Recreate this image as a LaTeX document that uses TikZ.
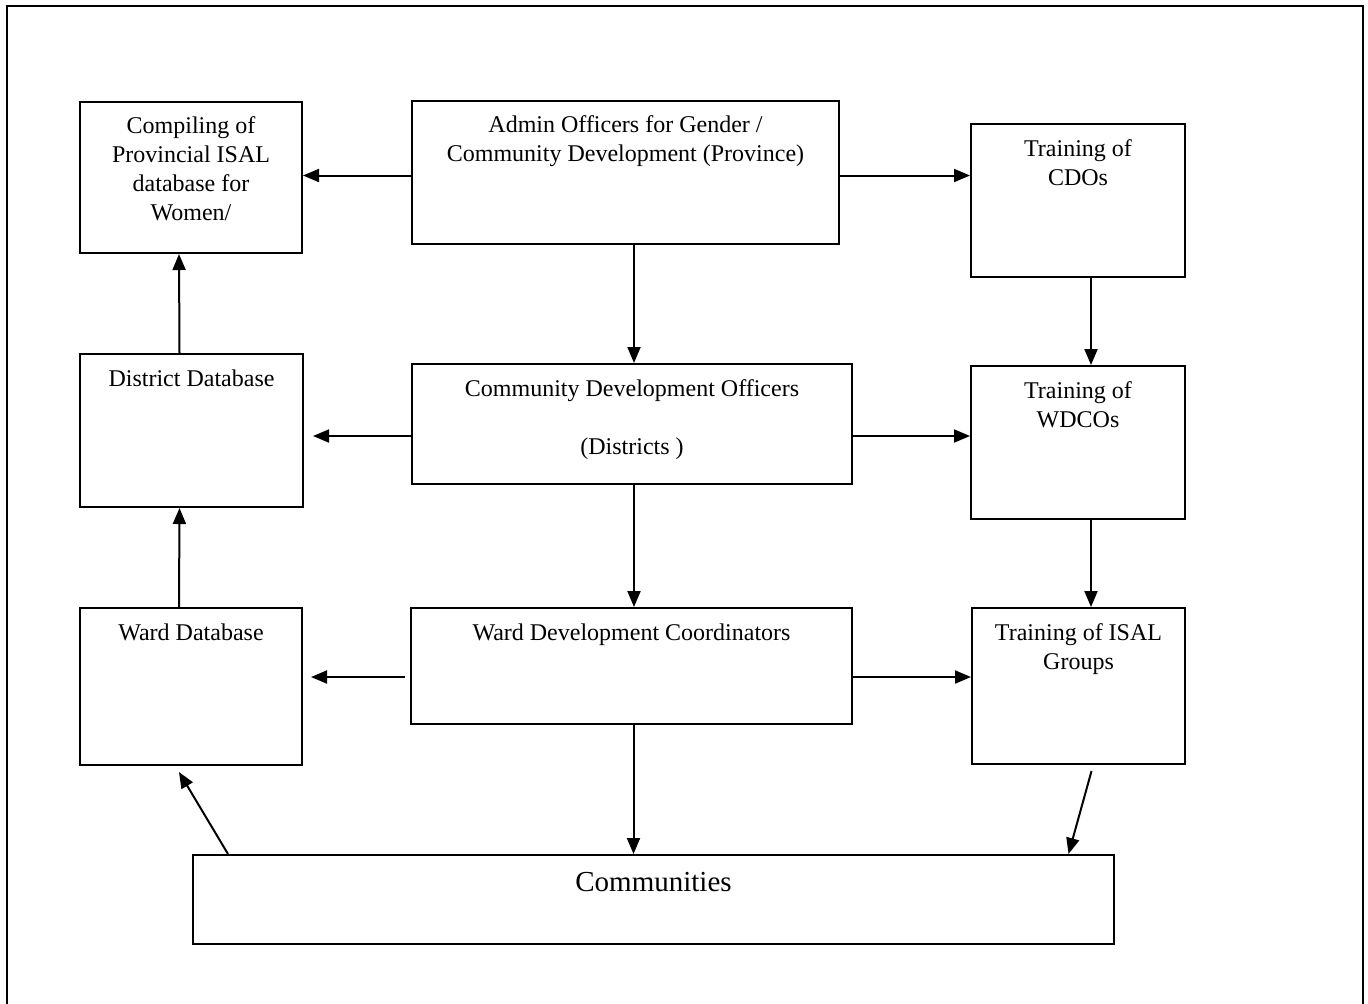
\documentclass[tikz,border=0pt]{standalone}
\usepackage{fontspec}
\setmainfont{Liberation Serif}
\usetikzlibrary{arrows.meta,positioning}

\tikzset{
	box/.style={draw, rectangle, line width=1pt, inner sep=0pt},
	txt/.style={align=center, inner sep=0pt, font=\fontsize{12}{14.5}\selectfont},
	arr/.style={-{Triangle[length=8pt,width=6.5pt]}, line width=1pt},
}

\begin{document}
\begin{tikzpicture}[x=0.5pt, y=-0.5pt]
	\useasboundingbox (0,0) rectangle (1368,1003);
	\draw[line width=1.1pt] (7,6) rectangle (1363,1030);

	% boxes
	\node[box, minimum width=111pt, minimum height=75.5pt] (cmp) at (191,177.5) {};
	\node[box, minimum width=213.5pt, minimum height=71.5pt] (adm) at (625.5,172.5) {};
	\node[box, minimum width=107pt, minimum height=76.5pt] (trc) at (1078,200.5) {};
	\node[box, minimum width=111.5pt, minimum height=76.5pt] (dist) at (191.5,430.5) {};
	\node[box, minimum width=220pt, minimum height=60pt] (cdo) at (632,424) {};
	\node[box, minimum width=107pt, minimum height=76.5pt] (trw) at (1078,442.5) {};
	\node[box, minimum width=111pt, minimum height=78.5pt] (ward) at (191,686.5) {};
	\node[box, minimum width=220.5pt, minimum height=58pt] (wdc) at (631.5,666) {};
	\node[box, minimum width=106.5pt, minimum height=78pt] (tri) at (1078.5,686) {};
	\node[box, minimum width=460.5pt, minimum height=44.5pt] (com) at (653.5,899.5) {};

	% texts
	\node[txt, below=7.5pt of cmp.north] (cmp-t) {Compiling of\\Provincial ISAL\\database for\\Women/};
	\node[txt, below=7.5pt of adm.north] (adm-t) {Admin Officers for Gender /\\Community Development (Province)};
	\node[txt, below=8pt of trc.north] (trc-t) {Training of\\CDOs};
	\node[txt, below=8pt of dist.north] (dist-t) {District Database};
	\node[txt, below=8pt of cdo.north] (cdo-t) {Community Development Officers\\[14.5pt](Districts )};
	\node[txt, below=8pt of trw.north] (trw-t) {Training of\\WDCOs};
	\node[txt, below=8pt of ward.north] (ward-t) {Ward Database};
	\node[txt, below=8pt of wdc.north] (wdc-t) {Ward Development Coordinators};
	\node[txt, below=8pt of tri.north] (tri-t) {Training of ISAL\\Groups};
	\node[txt, font=\fontsize{14.5}{17}\selectfont, below=9pt of com.north] (com-t) {Communities};

	% arrows
	\draw[arr] ([yshift=-1.5pt]adm.west) -- ([yshift=-1.5pt]adm.west -| cmp.east);
	\draw[arr] ([yshift=-1.5pt]adm.east) -- ([yshift=-1.5pt]adm.east -| trc.west);
	\draw[arr] ([xshift=1pt]cdo.north |- adm.south) -- ([xshift=1pt]cdo.north);
	\draw[arr] ([xshift=-6pt]dist.north) -- ([xshift=-6pt]cmp.south);
	\draw[arr] ([yshift=-6pt]cdo.west) -- ([xshift=4.5pt, yshift=-6pt]cdo.west -| dist.east);
	\draw[arr] ([yshift=-6pt]cdo.east) -- ([yshift=-6pt]cdo.east -| trw.west);
	\draw[arr] ([xshift=6.5pt]trc.south) -- ([xshift=6.5pt]trw.north);
	\draw[arr] ([xshift=1pt]cdo.south) -- ([xshift=1pt]cdo.south |- wdc.north);
	\draw[arr] ([xshift=6.5pt]trw.south) -- ([xshift=6.5pt]trw.south |- tri.north);
	\draw[arr] ([xshift=-6pt]ward.north) -- ([xshift=-6pt]dist.south);
	\draw[arr] ([xshift=-2.5pt, yshift=-5.5pt]wdc.west) -- ([xshift=4pt, yshift=-5.5pt]wdc.west -| ward.east);
	\draw[arr] ([yshift=-5.5pt]wdc.east) -- ([yshift=-5.5pt]wdc.east -| tri.west);
	\draw[arr] ([xshift=1pt]wdc.south) -- ([xshift=1pt]wdc.south |- com.north);
	\draw[arr] ([xshift=6.5pt, yshift=-3pt]tri.south) -- ([xshift=-5pt]tri.south |- com.north);
	\draw[arr] ([xshift=18.5pt]ward.south |- com.north) -- ([xshift=-6pt, yshift=-3pt]ward.south);
\end{tikzpicture}
\end{document}
